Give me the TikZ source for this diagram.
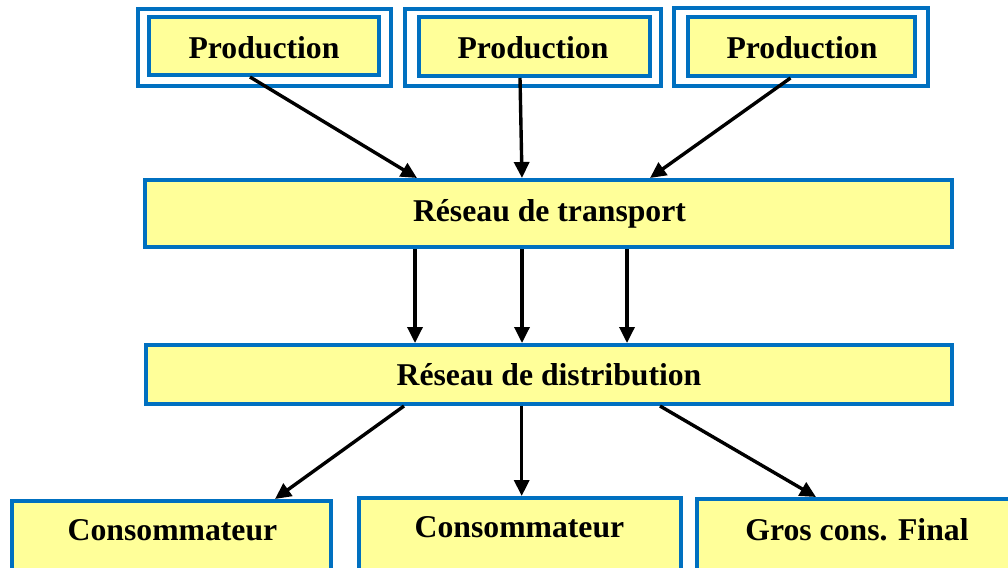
\documentclass[tikz,border=0pt]{standalone}
\usepackage{fontspec}
\setmainfont{Liberation Serif}
\usetikzlibrary{arrows.meta}

\definecolor{boxfill}{RGB}{255,255,153}
\definecolor{boxline}{RGB}{0,112,192}

\tikzset{
  box/.style={draw=boxline, line width=4pt, fill=boxfill, rectangle, inner sep=0pt},
  frame/.style={draw=boxline, line width=4pt, rectangle, inner sep=0pt},
  lbl/.style={anchor=base, inner sep=0pt, font=\fontsize{31.7}{38}\selectfont\bfseries},
  arr/.style={line width=3.4pt, -{Triangle[length=16pt,width=15pt]}}
}

\begin{document}
\begin{tikzpicture}[x=1pt, y=-1pt]
\useasboundingbox (0,0) rectangle (1008,567);
\clip (0,0) rectangle (1008,567);

% producers: inner box inside an outer frame
\node[frame, minimum width=253pt, minimum height=77pt] (f1) at (264.5,47.5) {};
\node[box, minimum width=230pt, minimum height=58pt] (p1) at (264,46) {};
\node[frame, minimum width=256pt, minimum height=77pt] (f2) at (533,47.5) {};
\node[box, minimum width=231pt, minimum height=59pt] (p2) at (534.5,46.5) {};
\node[frame, minimum width=254pt, minimum height=78pt] (f3) at (801,47) {};
\node[box, minimum width=227pt, minimum height=59pt] (p3) at (801.5,46.5) {};
\node[lbl] (tp1) at (264,59) {Production};
\node[lbl] (tp2) at (533,59) {Production};
\node[lbl] (tp3) at (802,59) {Production};

% networks
\node[box, minimum width=807pt, minimum height=67pt] (tr) at (548.5,213.5) {};
\node[lbl] (ttr) at (549.5,221) {Réseau de transport};
\node[box, minimum width=806pt, minimum height=59pt] (di) at (549,374.5) {};
\node[lbl] (tdi) at (549,385) {Réseau de distribution};

% consumers
\node[box, minimum width=319pt, minimum height=99pt] (c1) at (171.5,550.5) {};
\node[lbl] (tc1) at (172.5,540) {Consommateur};
\node[box, minimum width=322pt, minimum height=102pt] (c2) at (520,549) {};
\node[lbl] (tc2) at (519.5,537) {Consommateur};
\node[box, minimum width=320pt, minimum height=101pt] (c3) at (857,549.5) {};
\node[lbl] (tc3) at (857,540) {Gros cons. Final};

% production -> transport
\draw[arr] ([xshift=-14pt]p1.south) -- ([xshift=-131.5pt]tr.north);
\draw[arr] ([xshift=-14.5pt]p2.south) -- ([xshift=-26.5pt]tr.north);
\draw[arr] ([xshift=-11pt]p3.south) -- ([xshift=101.5pt]tr.north);

% transport -> distribution
\draw[arr] ([xshift=-133.5pt]tr.south) -- ([xshift=-134pt]di.north);
\draw[arr] ([xshift=-26.5pt]tr.south) -- ([xshift=-27pt]di.north);
\draw[arr] ([xshift=78.5pt]tr.south) -- ([xshift=78pt]di.north);

% distribution -> consumers
\draw[arr] ([xshift=-145pt]di.south) -- ([xshift=103.5pt]c1.north);
\draw[arr] ([xshift=-27.3pt]di.south) -- ([xshift=1.7pt]c2.north);
\draw[arr] ([xshift=111pt]di.south) -- ([xshift=-41pt]c3.north);
\end{tikzpicture}
\end{document}
